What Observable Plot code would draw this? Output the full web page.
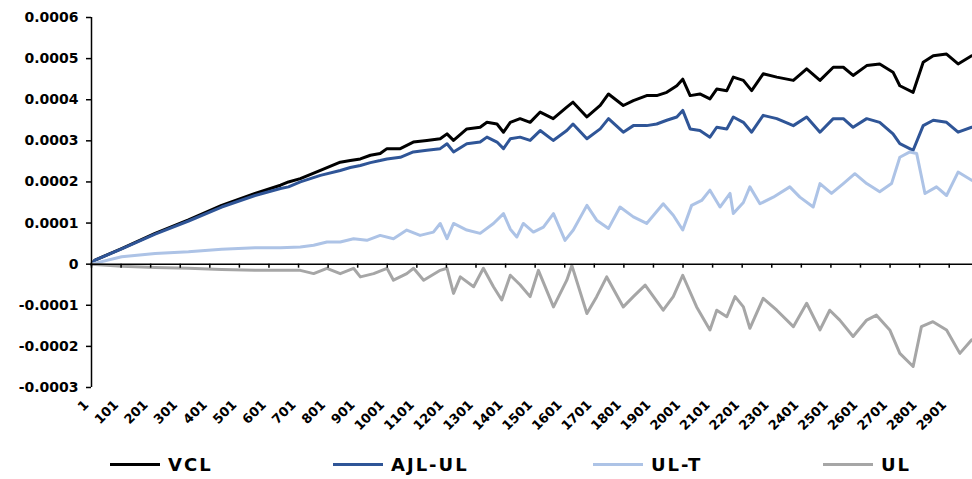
<!DOCTYPE html>
<html>
<head>
<meta charset="utf-8">
<script src="https://cdn.jsdelivr.net/npm/d3@7"></script>
<script src="https://cdn.jsdelivr.net/npm/@observablehq/plot@0.6"></script>
<style>
  body { margin: 0; background: #fff; overflow: hidden; width: 972px; height: 479px; }
  #chart { position: absolute; left: 0; top: 0; }
  #legend { position: absolute; left: 0; top: 440px; width: 972px; height: 39px;
            font-family: "DejaVu Sans", sans-serif; font-weight: bold; font-size: 18px; letter-spacing: 2px; color: #000; }
  .item { position: absolute; top: 13px; height: 22px; display: flex; align-items: center; white-space: nowrap; }
  .sw { display: inline-block; width: 50px; height: 3px; margin-right: 8px; }
</style>
</head>
<body>
<div id="chart"></div>
<div id="legend"></div>
<script>
// ---- data ----
const seriesNames = ["VCL", "AJL-UL", "UL-T", "UL"];
const seriesColors = ["#000000", "#2f5597", "#adc3e6", "#a6a6a6"];

const xTicks = [1, 101, 201, 301, 401, 501, 601, 701, 801, 901, 1001, 1101, 1201, 1301, 1401,
  1501, 1601, 1701, 1801, 1901, 2001, 2101, 2201, 2301, 2401, 2501, 2601, 2701, 2801, 2901];
const xTickLabels = ["1", "101", "201", "301", "401", "501", "601", "701", "801", "901", "1001", "1101",
  "1201", "1301", "1401", "1501", "1601", "1701", "1801", "1901", "2001", "2101", "2201", "2301", "2401",
  "2501", "2601", "2701", "2801", "2901"];
const yTicks = [-0.0003, -0.0002, -0.0001, 0, 0.0001, 0.0002, 0.0003, 0.0004, 0.0005, 0.0006];
const yTickLabels = ["-0.0003", "-0.0002", "-0.0001", "0", "0.0001", "0.0002", "0.0003", "0.0004", "0.0005", "0.0006"];

// VCL and AJL-UL share the same sample positions
const mainIdx = [1, 13, 103, 216, 329, 441, 554, 640, 667, 707, 775, 842, 876, 910, 944, 977, 1000,
  1045, 1089, 1135, 1180, 1203, 1225, 1270, 1315, 1338, 1372, 1394, 1417, 1450, 1484, 1518, 1562,
  1608, 1629, 1676, 1721, 1749, 1799, 1833, 1878, 1912, 1946, 1980, 2000, 2025, 2058, 2092, 2115,
  2149, 2171, 2205, 2233, 2272, 2318, 2374, 2419, 2464, 2509, 2543, 2576, 2622, 2666, 2711, 2734,
  2779, 2813, 2847, 2892, 2931, 2977];
const vcl = [0, 0.00001, 0.000038, 0.000075, 0.000108, 0.000143, 0.000172, 0.000192, 0.0002, 0.000208,
  0.000228, 0.000248, 0.000252, 0.000256, 0.000265, 0.000269, 0.000281, 0.000281, 0.000297, 0.000301,
  0.000305, 0.000317, 0.000301, 0.000329, 0.000333, 0.000345, 0.000341, 0.000321, 0.000345, 0.000354,
  0.000345, 0.00037, 0.000354, 0.000382, 0.000394, 0.000358, 0.000386, 0.000414, 0.000386, 0.000398,
  0.00041, 0.00041, 0.000418, 0.000434, 0.00045, 0.00041, 0.000414, 0.000402, 0.000426, 0.000422,
  0.000455, 0.000447, 0.000422, 0.000463, 0.000455, 0.000447, 0.000475, 0.000447, 0.000479, 0.000479,
  0.000459, 0.000483, 0.000487, 0.000467, 0.000434, 0.000418, 0.000491, 0.000507, 0.000511, 0.000487,
  0.000507];
const ajlUl = [0, 0.00001, 0.000037, 0.000073, 0.000105, 0.000139, 0.000167, 0.000184, 0.000188, 0.0002,
  0.000216, 0.000228, 0.000235, 0.00024, 0.000247, 0.000252, 0.000256, 0.00026, 0.000273, 0.000277,
  0.000281, 0.000293, 0.000273, 0.000293, 0.000297, 0.000309, 0.000297, 0.000281, 0.000305, 0.000309,
  0.000301, 0.000325, 0.000301, 0.000325, 0.000341, 0.000305, 0.000329, 0.000354, 0.000321, 0.000337,
  0.000337, 0.000341, 0.00035, 0.000358, 0.000374, 0.000329, 0.000325, 0.000309, 0.000333, 0.000329,
  0.000358, 0.000345, 0.000321, 0.000362, 0.000354, 0.000337, 0.000358, 0.000321, 0.000354, 0.000354,
  0.000333, 0.000354, 0.000345, 0.000317, 0.000293, 0.000277, 0.000337, 0.00035, 0.000345, 0.000321,
  0.000333];

const ultIdx = [1, 103, 216, 329, 441, 554, 640, 707, 752, 797, 842, 887, 932, 977, 1022, 1067, 1112,
  1157, 1180, 1203, 1225, 1270, 1315, 1360, 1394, 1417, 1439, 1461, 1495, 1529, 1563, 1602, 1630, 1676,
  1709, 1749, 1788, 1833, 1878, 1934, 1968, 2000, 2030, 2064, 2092, 2126, 2160, 2171, 2205, 2227, 2261,
  2306, 2362, 2396, 2441, 2464, 2503, 2543, 2582, 2622, 2666, 2706, 2734, 2768, 2791, 2819, 2858, 2892,
  2931, 2977];
const ulT = [0, 0.000018, 0.000026, 0.00003, 0.000036, 0.00004, 0.00004, 0.000042, 0.000046, 0.000054,
  0.000054, 0.000062, 0.000058, 0.00007, 0.000062, 0.000083, 0.00007, 0.000078, 0.000099, 0.000062,
  0.000099, 0.000083, 0.000075, 0.000099, 0.000123, 0.000085, 0.000066, 0.000099, 0.000078, 0.00009,
  0.000123, 0.000058, 0.000083, 0.000143, 0.000107, 0.000087, 0.000139, 0.000115, 0.000099, 0.000147,
  0.000119, 0.000083, 0.000143, 0.000155, 0.00018, 0.000139, 0.000172, 0.000123, 0.00015, 0.000188,
  0.000147, 0.000163, 0.000188, 0.000163, 0.000139, 0.000196, 0.000172, 0.000196, 0.00022, 0.000196,
  0.000176, 0.000196, 0.00026, 0.000273, 0.000269, 0.000172, 0.000188, 0.000167, 0.000224, 0.000204];

const ulIdx = [1, 103, 216, 329, 441, 554, 640, 707, 752, 797, 842, 887, 910, 955, 1000, 1022, 1067,
  1090, 1124, 1180, 1203, 1225, 1248, 1293, 1326, 1360, 1388, 1417, 1450, 1484, 1512, 1563, 1608, 1625,
  1676, 1709, 1743, 1799, 1833, 1873, 1934, 1968, 2000, 2047, 2092, 2115, 2149, 2177, 2205, 2227, 2272,
  2318, 2374, 2419, 2464, 2497, 2531, 2576, 2622, 2655, 2700, 2734, 2779, 2807, 2846, 2892, 2937, 2977];
const ul = [0, -0.000005, -0.000008, -0.00001, -0.000013, -0.000015, -0.000015, -0.000015, -0.000023,
  -0.00001, -0.000023, -0.00001, -0.000031, -0.000023, -0.00001, -0.000039, -0.000023, -0.00001,
  -0.000039, -0.000015, -0.00001, -0.000071, -0.000031, -0.000055, -0.00001, -0.000055, -0.000087,
  -0.000027, -0.00005, -0.000079, -0.000015, -0.000104, -0.000039, -0.000003, -0.00012, -0.000079,
  -0.000031, -0.000104, -0.000079, -0.000051, -0.000112, -0.000079, -0.000027, -0.000104, -0.00016,
  -0.000112, -0.000128, -0.000079, -0.000104, -0.000156, -0.000083, -0.000112, -0.000152, -0.000095,
  -0.00016, -0.000112, -0.000136, -0.000176, -0.000136, -0.000124, -0.00016, -0.000217, -0.000249,
  -0.000152, -0.00014, -0.00016, -0.000217, -0.000184];

// ---- table for Plot ----
const rows = [];
const add = (name, idx, vals) => idx.forEach((i, k) => rows.push({ s: name, i, v: vals[k] }));
add("VCL", mainIdx, vcl);
add("AJL-UL", mainIdx, ajlUl);
add("UL-T", ultIdx, ulT);
add("UL", ulIdx, ul);

const xLabelRows = xTicks.map((t, k) => ({ t, label: xTickLabels[k] }));

const chart = Plot.plot({
  width: 972,
  height: 440,
  marginTop: 17,
  marginBottom: 53,
  marginLeft: 91,
  marginRight: 0,
  style: { fontFamily: "DejaVu Sans, sans-serif", background: "#fff", color: "#000" },
  x: { type: "linear", domain: [1, 3000], range: [91, 978], axis: null },
  y: { domain: [-0.0003, 0.0006] },
  color: { domain: seriesNames, range: seriesColors },
  marks: [
    Plot.line(rows, { x: "i", y: "v", z: "s", stroke: "s", strokeWidth: 3, strokeLinejoin: "round" }),
    Plot.ruleY([0], { stroke: "#000", strokeWidth: 1.5 }),
    Plot.ruleX(xTicks, { x: d => d, y1: 0, y2: 0, insetBottom: -4, stroke: "#000", strokeWidth: 1.5 }),
    Plot.ruleX([1], { stroke: "#000", strokeWidth: 1.5 }),
    Plot.axisY({ ticks: yTicks, tickSize: 5, tickPadding: 8, strokeWidth: 1.5, label: null,
      tickFormat: d => yTickLabels[yTicks.indexOf(d)], fontSize: 14, fontWeight: "bold" }),
    Plot.text(xLabelRows, { x: "t", text: "label", frameAnchor: "bottom", rotate: -45,
      textAnchor: "end", dx: -2, dy: 18, fontSize: 13, fontWeight: "bold", fill: "#000" })
  ]
});
document.getElementById("chart").appendChild(chart);

// ---- legend ----
const legendLeft = [110, 333, 593, 823];
const legend = document.getElementById("legend");
seriesNames.forEach((name, k) => {
  const it = document.createElement("div");
  it.className = "item";
  it.style.left = legendLeft[k] + "px";
  it.innerHTML = `<span class="sw" style="background:${seriesColors[k]}"></span><span>${name}</span>`;
  legend.appendChild(it);
});
</script>
</body>
</html>
